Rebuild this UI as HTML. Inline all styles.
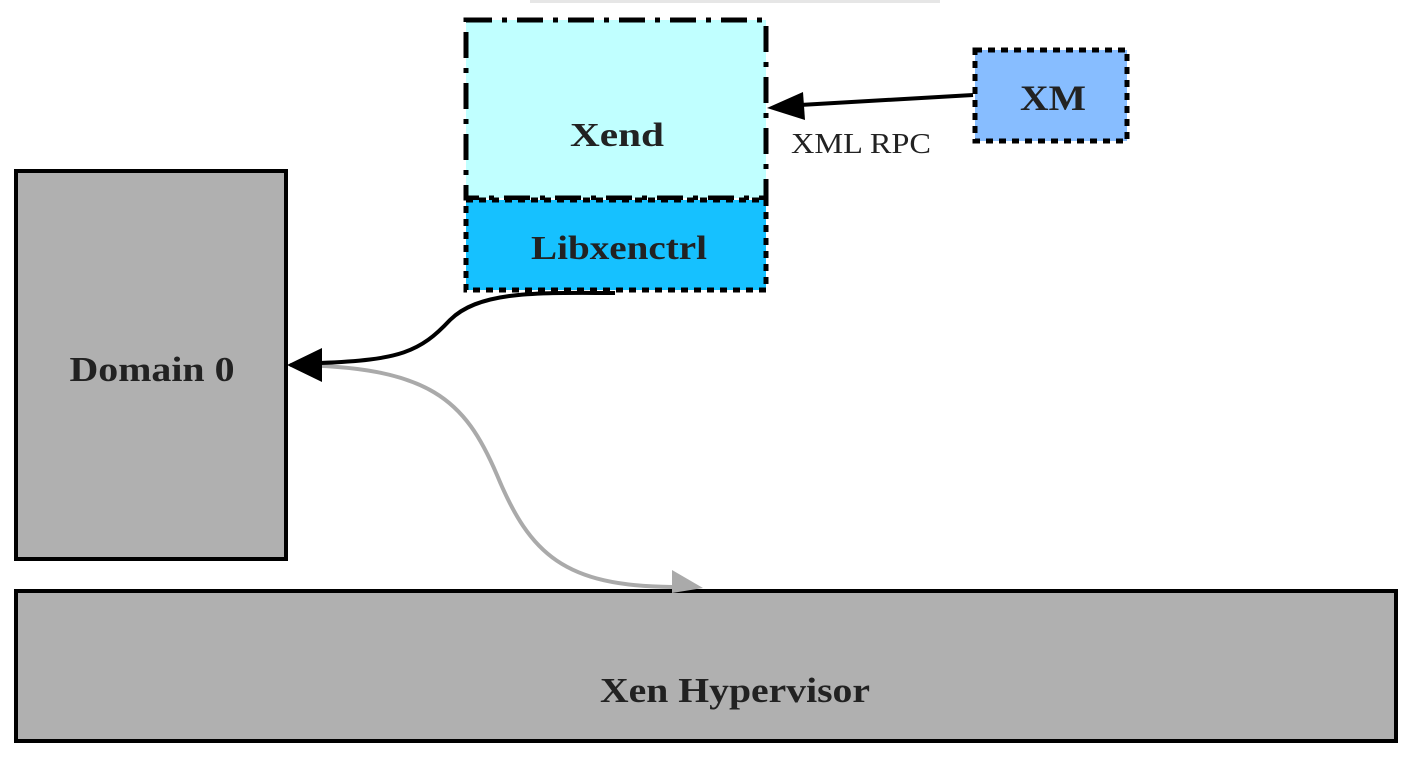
<!DOCTYPE html>
<html><head><meta charset="utf-8"><style>
html,body{margin:0;padding:0;background:#fff;width:1422px;height:772px;overflow:hidden}
svg{display:block}
text{font-family:"Liberation Serif",serif;fill:#222}
</style></head><body>
<svg width="1422" height="772" viewBox="0 0 1422 772" xmlns="http://www.w3.org/2000/svg">
<rect x="530" y="0" width="410" height="3" fill="#e6e6e6"/>
<!-- Xend -->
<rect x="466" y="20" width="300" height="178" fill="#c0ffff" stroke="#000" stroke-width="5" stroke-dasharray="26,10,5,10"/>
<text x="617" y="146" font-size="34" font-weight="bold" text-anchor="middle" textLength="94" lengthAdjust="spacingAndGlyphs">Xend</text>
<!-- Libxenctrl -->
<rect x="466" y="200" width="300" height="90" fill="#16c1ff" stroke="#000" stroke-width="5" stroke-dasharray="7,6"/>
<text x="619" y="259" font-size="34" font-weight="bold" text-anchor="middle" textLength="176" lengthAdjust="spacingAndGlyphs">Libxenctrl</text>
<!-- XM -->
<rect x="975" y="50" width="152" height="91" fill="#87bdff" stroke="#000" stroke-width="5" stroke-dasharray="7,6"/>
<text x="1053" y="110" font-size="36" font-weight="bold" text-anchor="middle" textLength="66" lengthAdjust="spacingAndGlyphs">XM</text>
<!-- XM -> Xend -->
<line x1="973" y1="95" x2="800" y2="105" stroke="#000" stroke-width="4"/>
<polygon points="767,108 803,92 805,120" fill="#000"/>
<text x="861" y="153" font-size="28" text-anchor="middle" textLength="140" lengthAdjust="spacingAndGlyphs">XML RPC</text>
<!-- Domain 0 -->
<rect x="16" y="171" width="270" height="388" fill="#b0b0b0" stroke="#000" stroke-width="4"/>
<text x="152" y="381" font-size="35" font-weight="bold" text-anchor="middle" textLength="165" lengthAdjust="spacingAndGlyphs">Domain 0</text>
<!-- Xen Hypervisor -->
<rect x="16" y="591" width="1380" height="150" fill="#b0b0b0" stroke="#000" stroke-width="4"/>
<text x="735" y="702" font-size="35" font-weight="bold" text-anchor="middle" textLength="270" lengthAdjust="spacingAndGlyphs">Xen Hypervisor</text>
<!-- gray curve -->
<path d="M290,365 C430,366 465,400 497,475 C530,555 565,586 672,587" fill="none" stroke="#aaaaaa" stroke-width="4"/>
<polygon points="703,588 672,570 672,593" fill="#aaaaaa"/>
<!-- black curve -->
<path d="M615,293 C540,293 480,290 450,320 C420,352 400,360 320,363" fill="none" stroke="#000" stroke-width="4"/>
<polygon points="287,365 322,348 322,382" fill="#000"/>
</svg>
</body></html>
